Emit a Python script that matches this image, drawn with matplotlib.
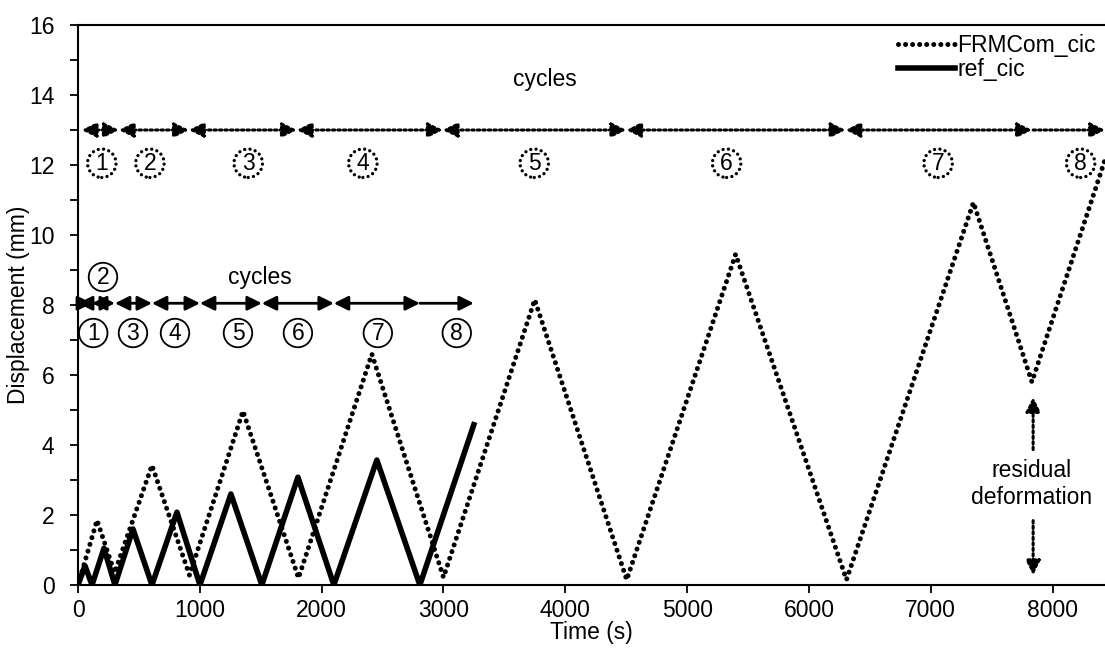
import matplotlib.pyplot as plt
from matplotlib.ticker import MultipleLocator

plt.rcParams['font.family'] = ['Liberation Sans', 'DejaVu Sans']

# FRMCom_cic (dotted) turning points
frm_t = [0, 156, 300, 607, 915, 1354, 1810, 2412, 3000, 3749, 4504, 5398, 6308, 7350, 7830, 8430]
frm_d = [0.0, 1.85, 0.35, 3.42, 0.28, 4.97, 0.2, 6.6, 0.22, 8.15, 0.15, 9.45, 0.15, 10.93, 5.8, 12.15]

# ref_cic (solid) turning points
ref_t = [0, 57, 115, 213, 303, 451, 607, 812, 1001, 1255, 1509, 1805, 2100, 2453, 2806, 3249]
ref_d = [0.0, 0.55, 0.0, 1.05, 0.0, 1.6, 0.0, 2.08, 0.0, 2.6, 0.0, 3.08, 0.0, 3.57, 0.0, 4.58]

# cycle bounds and label positions
frm_bounds = [30, 335, 910, 1796, 2994, 4500, 6300, 7830]
frm_label_t = [195, 590, 1397, 2338, 3745, 5324, 7060, 8230]
ref_bounds = [0, 115, 303, 607, 1001, 1509, 2100, 2806]
ref_end = 3249
ref_label_t = [125, 205, 451, 796, 1313, 1805, 2461, 3109]
ref_label_y = [7.2, 8.8, 7.2, 7.2, 7.2, 7.2, 7.2, 7.2]

fs = 16.5

fig = plt.figure(figsize=(11.05, 6.5), dpi=100)
ax = fig.add_axes([0.0706, 0.1, 0.9294, 0.8615])

ax.plot(frm_t, frm_d, color='black', lw=3.6, linestyle=(0, (0.01, 1.4)),
        dash_capstyle='round', label='FRMCom_cic')
ax.plot(ref_t, ref_d, color='black', lw=4, label='ref_cic')

ax.set_xlim(0, 8430)
ax.set_ylim(0, 16)
ax.xaxis.set_major_locator(MultipleLocator(1000))
ax.yaxis.set_major_locator(MultipleLocator(2))
ax.yaxis.set_minor_locator(MultipleLocator(1))
ax.tick_params(axis='both', which='both', direction='out', length=6, width=1.3, labelsize=fs)
ax.tick_params(axis='y', pad=11)
ax.tick_params(axis='x', pad=4)
ax.spines['right'].set_visible(False)
for s in ['left', 'bottom', 'top']:
    ax.spines[s].set_linewidth(1.5)
ax.set_xlabel('Time (s)', fontsize=fs, labelpad=-1)
ax.set_ylabel('Displacement (mm)', fontsize=fs, labelpad=-1)

head = 'head_length=0.86,head_width=0.43'

# cycle arrows - FRMCom (dotted)
arr_top = dict(arrowstyle='<|-|>,' + head, color='black', lw=2.2, mutation_scale=10,
               linestyle=(0, (0.8, 1.0)), shrinkA=0, shrinkB=0)
for a, b in zip(frm_bounds[:-1], frm_bounds[1:]):
    ax.annotate('', xy=(a, 13), xytext=(b, 13), arrowprops=arr_top)
ax.annotate('', xy=(frm_bounds[-1], 13), xytext=(8430, 13),
            arrowprops=dict(arr_top, arrowstyle='<|-,' + head))
ax.text(3830, 14.45, 'cycles', fontsize=fs, ha='center', va='center')
for i, t in enumerate(frm_label_t):
    ax.text(t, 12.05, str(i + 1), fontsize=fs, ha='center', va='center',
            bbox=dict(boxstyle='circle,pad=0.12', fc='white', ec='black', lw=2.4,
                      linestyle=(0, (0.01, 1.6)), capstyle='round'))

# cycle arrows - ref (solid)
arr_low = dict(arrowstyle='<|-|>,' + head, color='black', lw=2, mutation_scale=10,
               shrinkA=0, shrinkB=0)
for a, b in zip(ref_bounds[:-1], ref_bounds[1:]):
    ax.annotate('', xy=(a, 8.05), xytext=(b, 8.05), arrowprops=arr_low)
ax.annotate('', xy=(ref_bounds[-1], 8.05), xytext=(ref_end, 8.05),
            arrowprops=dict(arr_low, arrowstyle='<|-,' + head))
ax.text(1493, 8.8, 'cycles', fontsize=fs, ha='center', va='center')
for i, (t, y) in enumerate(zip(ref_label_t, ref_label_y)):
    ax.text(t, y, str(i + 1), fontsize=fs, ha='center', va='center',
            bbox=dict(boxstyle='circle,pad=0.12', fc='white', ec='black', lw=1.3))

# residual deformation
res_arrow = dict(arrowstyle='-|>,' + head, color='black', lw=2.2, mutation_scale=10,
                 linestyle=(0, (0.8, 1.0)), shrinkA=0, shrinkB=0)
ax.annotate('', xy=(7840, 5.37), xytext=(7840, 3.87), arrowprops=res_arrow)
ax.annotate('', xy=(7840, 0.28), xytext=(7840, 1.84), arrowprops=res_arrow)
ax.text(7830, 2.88, 'residual\ndeformation', fontsize=fs, ha='center', va='center',
        linespacing=1.2)

ax.legend(loc='upper right', bbox_to_anchor=(1.0, 1.0), frameon=False, fontsize=fs,
          handlelength=2.5, handletextpad=0.1, labelspacing=0.05, borderaxespad=0.1,
          borderpad=0.3)

fig.savefig('out.png', dpi=100)
